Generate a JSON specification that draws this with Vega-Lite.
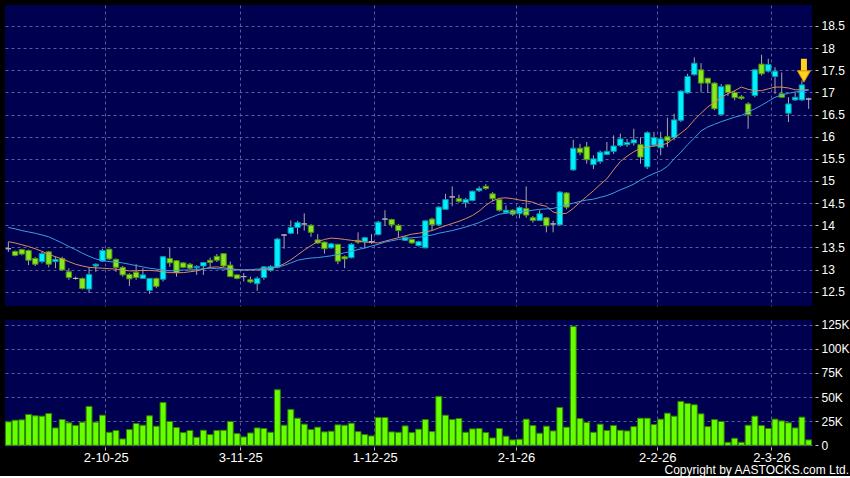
{
  "$schema": "https://vega.github.io/schema/vega-lite/v6.json",
  "background": "#000000",
  "padding": {"left": 4, "top": 5, "right": 0, "bottom": 0},
  "spacing": 12,
  "title": {"text": "Copyright by AASTOCKS.com Ltd.", "orient": "bottom", "anchor": "end", "font": "Liberation Sans", "fontSize": 12, "fontWeight": "normal", "color": "#FFFFFF", "offset": 1},
  "datasets": {
    "ohlc": [
      {"j":0,"date":"10-9-25","open":13.47,"high":13.62,"low":13.40,"close":13.47,"volume":24300,"sma10":13.63,"sma20":13.95},
      {"j":1,"date":"11-9-25","open":13.41,"high":13.43,"low":13.30,"close":13.32,"volume":26000,"sma10":13.60,"sma20":13.92},
      {"j":2,"date":"12-9-25","open":13.45,"high":13.47,"low":13.32,"close":13.35,"volume":26400,"sma10":13.56,"sma20":13.88},
      {"j":3,"date":"15-9-25","open":13.43,"high":13.45,"low":13.10,"close":13.21,"volume":31900,"sma10":13.52,"sma20":13.85},
      {"j":4,"date":"16-9-25","open":13.25,"high":13.28,"low":13.08,"close":13.12,"volume":30600,"sma10":13.47,"sma20":13.82},
      {"j":5,"date":"17-9-25","open":13.18,"high":13.40,"low":13.14,"close":13.36,"volume":30200,"sma10":13.41,"sma20":13.78},
      {"j":6,"date":"18-9-25","open":13.40,"high":13.42,"low":13.05,"close":13.12,"volume":33000,"sma10":13.34,"sma20":13.74},
      {"j":7,"date":"19-9-25","open":13.18,"high":13.29,"low":13.03,"close":13.23,"volume":18000,"sma10":13.29,"sma20":13.67},
      {"j":8,"date":"22-9-25","open":13.25,"high":13.29,"low":12.97,"close":12.99,"volume":26700,"sma10":13.24,"sma20":13.60},
      {"j":9,"date":"23-9-25","open":12.95,"high":13.03,"low":12.77,"close":12.82,"volume":23300,"sma10":13.18,"sma20":13.52},
      {"j":10,"date":"24-9-25","open":12.80,"high":12.84,"low":12.77,"close":12.80,"volume":20500,"sma10":13.12,"sma20":13.45},
      {"j":11,"date":"25-9-25","open":12.80,"high":12.82,"low":12.55,"close":12.57,"volume":24000,"sma10":13.08,"sma20":13.37},
      {"j":12,"date":"26-9-25","open":12.56,"high":13.05,"low":12.47,"close":12.89,"volume":40300,"sma10":13.05,"sma20":13.30},
      {"j":13,"date":"29-9-25","open":13.08,"high":13.14,"low":12.95,"close":13.12,"volume":24000,"sma10":13.04,"sma20":13.24},
      {"j":14,"date":"30-9-25","open":13.19,"high":13.47,"low":13.17,"close":13.43,"volume":31200,"sma10":13.03,"sma20":13.20},
      {"j":15,"date":"2-10-25","open":13.46,"high":13.47,"low":13.21,"close":13.24,"volume":13500,"sma10":13.02,"sma20":13.18},
      {"j":16,"date":"3-10-25","open":13.23,"high":13.25,"low":12.95,"close":13.05,"volume":15300,"sma10":13.01,"sma20":13.17},
      {"j":17,"date":"6-10-25","open":13.05,"high":13.08,"low":12.84,"close":12.88,"volume":6600,"sma10":12.99,"sma20":13.15},
      {"j":18,"date":"8-10-25","open":12.89,"high":12.92,"low":12.63,"close":12.79,"volume":16300,"sma10":12.97,"sma20":13.12},
      {"j":19,"date":"9-10-25","open":12.94,"high":13.12,"low":12.77,"close":12.82,"volume":22600,"sma10":12.97,"sma20":13.09},
      {"j":20,"date":"10-10-25","open":12.80,"high":13.03,"low":12.80,"close":12.88,"volume":20800,"sma10":12.98,"sma20":13.06},
      {"j":21,"date":"13-10-25","open":12.53,"high":12.80,"low":12.45,"close":12.80,"volume":30600,"sma10":12.98,"sma20":13.03},
      {"j":22,"date":"14-10-25","open":12.80,"high":12.82,"low":12.58,"close":12.62,"volume":19800,"sma10":12.97,"sma20":13.01},
      {"j":23,"date":"15-10-25","open":12.78,"high":13.30,"low":12.73,"close":13.29,"volume":44400,"sma10":12.95,"sma20":12.99},
      {"j":24,"date":"16-10-25","open":13.25,"high":13.49,"low":13.06,"close":13.15,"volume":24700,"sma10":12.93,"sma20":12.97},
      {"j":25,"date":"17-10-25","open":13.20,"high":13.21,"low":12.84,"close":12.93,"volume":18400,"sma10":12.93,"sma20":12.98},
      {"j":26,"date":"20-10-25","open":13.15,"high":13.17,"low":13.03,"close":13.05,"volume":13200,"sma10":12.93,"sma20":12.99},
      {"j":27,"date":"21-10-25","open":13.12,"high":13.15,"low":12.99,"close":13.03,"volume":15300,"sma10":12.95,"sma20":12.99},
      {"j":28,"date":"22-10-25","open":13.04,"high":13.10,"low":12.88,"close":13.07,"volume":8300,"sma10":12.97,"sma20":13.00},
      {"j":29,"date":"23-10-25","open":13.08,"high":13.17,"low":12.88,"close":13.16,"volume":15600,"sma10":13.01,"sma20":13.02},
      {"j":30,"date":"24-10-25","open":13.21,"high":13.27,"low":13.05,"close":13.16,"volume":11100,"sma10":13.05,"sma20":13.03},
      {"j":31,"date":"27-10-25","open":13.30,"high":13.35,"low":13.17,"close":13.21,"volume":15300,"sma10":13.06,"sma20":13.02},
      {"j":32,"date":"28-10-25","open":13.36,"high":13.37,"low":13.05,"close":13.08,"volume":15600,"sma10":13.04,"sma20":13.01},
      {"j":33,"date":"30-10-25","open":13.10,"high":13.18,"low":12.83,"close":12.84,"volume":24700,"sma10":13.02,"sma20":13.00},
      {"j":34,"date":"31-10-25","open":12.88,"high":12.89,"low":12.78,"close":12.80,"volume":12200,"sma10":13.00,"sma20":12.99},
      {"j":35,"date":"3-11-25","open":12.84,"high":12.92,"low":12.73,"close":12.84,"volume":8700,"sma10":12.99,"sma20":12.99},
      {"j":36,"date":"4-11-25","open":12.77,"high":12.84,"low":12.69,"close":12.72,"volume":12800,"sma10":12.99,"sma20":13.00},
      {"j":37,"date":"5-11-25","open":12.68,"high":12.84,"low":12.52,"close":12.80,"volume":18000,"sma10":12.99,"sma20":13.01},
      {"j":38,"date":"6-11-25","open":12.82,"high":13.08,"low":12.77,"close":13.06,"volume":17400,"sma10":13.00,"sma20":13.02},
      {"j":39,"date":"7-11-25","open":12.98,"high":13.10,"low":12.95,"close":13.07,"volume":13500,"sma10":13.02,"sma20":13.04},
      {"j":40,"date":"10-11-25","open":13.05,"high":13.71,"low":13.03,"close":13.69,"volume":57600,"sma10":13.06,"sma20":13.06},
      {"j":41,"date":"11-11-25","open":13.78,"high":13.80,"low":13.47,"close":13.78,"volume":20800,"sma10":13.13,"sma20":13.09},
      {"j":42,"date":"12-11-25","open":13.82,"high":14.11,"low":13.80,"close":13.95,"volume":37200,"sma10":13.22,"sma20":13.15},
      {"j":43,"date":"13-11-25","open":13.95,"high":14.10,"low":13.80,"close":14.06,"volume":28100,"sma10":13.33,"sma20":13.21},
      {"j":44,"date":"14-11-25","open":14.03,"high":14.27,"low":13.88,"close":14.03,"volume":21900,"sma10":13.44,"sma20":13.24},
      {"j":45,"date":"17-11-25","open":14.00,"high":14.03,"low":13.74,"close":13.84,"volume":16300,"sma10":13.54,"sma20":13.26},
      {"j":46,"date":"18-11-25","open":13.67,"high":13.80,"low":13.58,"close":13.60,"volume":18800,"sma10":13.63,"sma20":13.27},
      {"j":47,"date":"19-11-25","open":13.62,"high":13.63,"low":13.36,"close":13.47,"volume":13900,"sma10":13.68,"sma20":13.29},
      {"j":48,"date":"20-11-25","open":13.49,"high":13.60,"low":13.47,"close":13.58,"volume":14600,"sma10":13.71,"sma20":13.31},
      {"j":49,"date":"21-11-25","open":13.57,"high":13.58,"low":13.12,"close":13.19,"volume":21200,"sma10":13.70,"sma20":13.34},
      {"j":50,"date":"24-11-25","open":13.29,"high":13.32,"low":13.03,"close":13.24,"volume":20800,"sma10":13.68,"sma20":13.38},
      {"j":51,"date":"25-11-25","open":13.27,"high":13.60,"low":13.25,"close":13.57,"volume":22900,"sma10":13.66,"sma20":13.41},
      {"j":52,"date":"26-11-25","open":13.66,"high":13.84,"low":13.58,"close":13.62,"volume":14200,"sma10":13.64,"sma20":13.45},
      {"j":53,"date":"27-11-25","open":13.63,"high":13.74,"low":13.47,"close":13.72,"volume":11100,"sma10":13.62,"sma20":13.49},
      {"j":54,"date":"28-11-25","open":13.63,"high":13.80,"low":13.58,"close":13.63,"volume":9700,"sma10":13.61,"sma20":13.53},
      {"j":55,"date":"1-12-25","open":13.79,"high":14.10,"low":13.77,"close":14.07,"volume":28800,"sma10":13.60,"sma20":13.57},
      {"j":56,"date":"2-12-25","open":14.14,"high":14.34,"low":13.99,"close":14.14,"volume":28800,"sma10":13.64,"sma20":13.62},
      {"j":57,"date":"3-12-25","open":14.13,"high":14.15,"low":13.95,"close":14.01,"volume":13900,"sma10":13.68,"sma20":13.65},
      {"j":58,"date":"4-12-25","open":14.00,"high":14.03,"low":13.73,"close":13.88,"volume":13500,"sma10":13.72,"sma20":13.68},
      {"j":59,"date":"5-12-25","open":13.66,"high":13.76,"low":13.65,"close":13.73,"volume":20100,"sma10":13.76,"sma20":13.70},
      {"j":60,"date":"8-12-25","open":13.68,"high":13.70,"low":13.58,"close":13.60,"volume":13200,"sma10":13.80,"sma20":13.72},
      {"j":61,"date":"9-12-25","open":13.54,"high":13.65,"low":13.52,"close":13.63,"volume":16700,"sma10":13.82,"sma20":13.73},
      {"j":62,"date":"10-12-25","open":13.49,"high":14.11,"low":13.48,"close":14.10,"volume":26700,"sma10":13.85,"sma20":13.75},
      {"j":63,"date":"11-12-25","open":14.14,"high":14.17,"low":13.88,"close":14.01,"volume":14200,"sma10":13.88,"sma20":13.78},
      {"j":64,"date":"12-12-25","open":14.01,"high":14.43,"low":13.99,"close":14.41,"volume":50700,"sma10":13.94,"sma20":13.82},
      {"j":65,"date":"15-12-25","open":14.36,"high":14.71,"low":14.36,"close":14.58,"volume":31200,"sma10":13.99,"sma20":13.85},
      {"j":66,"date":"16-12-25","open":14.64,"high":14.88,"low":14.43,"close":14.64,"volume":26700,"sma10":14.04,"sma20":13.88},
      {"j":67,"date":"17-12-25","open":14.60,"high":14.69,"low":14.51,"close":14.54,"volume":27800,"sma10":14.09,"sma20":13.92},
      {"j":68,"date":"18-12-25","open":14.51,"high":14.62,"low":14.40,"close":14.58,"volume":13500,"sma10":14.15,"sma20":13.96},
      {"j":69,"date":"19-12-25","open":14.56,"high":14.78,"low":14.54,"close":14.77,"volume":17000,"sma10":14.22,"sma20":14.01},
      {"j":70,"date":"22-12-25","open":14.78,"high":14.88,"low":14.75,"close":14.83,"volume":17400,"sma10":14.32,"sma20":14.06},
      {"j":71,"date":"23-12-25","open":14.88,"high":14.93,"low":14.80,"close":14.83,"volume":13200,"sma10":14.45,"sma20":14.13},
      {"j":72,"date":"24-12-25","open":14.71,"high":14.75,"low":14.54,"close":14.60,"volume":7600,"sma10":14.55,"sma20":14.19},
      {"j":73,"date":"29-12-25","open":14.58,"high":14.60,"low":14.31,"close":14.34,"volume":17400,"sma10":14.61,"sma20":14.25},
      {"j":74,"date":"30-12-25","open":14.29,"high":14.45,"low":14.26,"close":14.34,"volume":9400,"sma10":14.62,"sma20":14.27},
      {"j":75,"date":"31-12-25","open":14.34,"high":14.36,"low":14.21,"close":14.25,"volume":5600,"sma10":14.60,"sma20":14.29},
      {"j":76,"date":"2-1-26","open":14.26,"high":14.43,"low":14.16,"close":14.40,"volume":6300,"sma10":14.57,"sma20":14.31},
      {"j":77,"date":"5-1-26","open":14.38,"high":14.88,"low":14.17,"close":14.23,"volume":27100,"sma10":14.55,"sma20":14.32},
      {"j":78,"date":"6-1-26","open":14.17,"high":14.21,"low":14.06,"close":14.11,"volume":20500,"sma10":14.52,"sma20":14.34},
      {"j":79,"date":"7-1-26","open":14.11,"high":14.34,"low":14.10,"close":14.26,"volume":12500,"sma10":14.46,"sma20":14.36},
      {"j":80,"date":"8-1-26","open":14.17,"high":14.19,"low":13.84,"close":13.99,"volume":19800,"sma10":14.43,"sma20":14.37},
      {"j":81,"date":"9-1-26","open":14.03,"high":14.10,"low":13.84,"close":14.03,"volume":14900,"sma10":14.30,"sma20":14.38},
      {"j":82,"date":"12-1-26","open":14.01,"high":14.77,"low":13.99,"close":14.75,"volume":39200,"sma10":14.26,"sma20":14.42},
      {"j":83,"date":"13-1-26","open":14.73,"high":14.75,"low":14.36,"close":14.41,"volume":18800,"sma10":14.27,"sma20":14.46},
      {"j":84,"date":"14-1-26","open":15.25,"high":15.93,"low":15.23,"close":15.74,"volume":123300,"sma10":14.38,"sma20":14.50},
      {"j":85,"date":"15-1-26","open":15.74,"high":15.84,"low":15.58,"close":15.64,"volume":27800,"sma10":14.52,"sma20":14.54},
      {"j":86,"date":"16-1-26","open":15.77,"high":15.88,"low":15.39,"close":15.48,"volume":23600,"sma10":14.65,"sma20":14.57},
      {"j":87,"date":"19-1-26","open":15.37,"high":15.58,"low":15.27,"close":15.50,"volume":13500,"sma10":14.78,"sma20":14.59},
      {"j":88,"date":"20-1-26","open":15.44,"high":15.69,"low":15.39,"close":15.65,"volume":21900,"sma10":14.92,"sma20":14.63},
      {"j":89,"date":"21-1-26","open":15.60,"high":15.88,"low":15.58,"close":15.67,"volume":15300,"sma10":15.05,"sma20":14.67},
      {"j":90,"date":"22-1-26","open":15.67,"high":16.03,"low":15.61,"close":15.79,"volume":20500,"sma10":15.25,"sma20":14.73},
      {"j":91,"date":"23-1-26","open":15.80,"high":16.07,"low":15.77,"close":15.95,"volume":15600,"sma10":15.44,"sma20":14.80},
      {"j":92,"date":"26-1-26","open":15.82,"high":15.95,"low":15.77,"close":15.87,"volume":14900,"sma10":15.56,"sma20":14.86},
      {"j":93,"date":"27-1-26","open":15.86,"high":16.18,"low":15.80,"close":15.93,"volume":19400,"sma10":15.66,"sma20":14.93},
      {"j":94,"date":"28-1-26","open":15.82,"high":15.99,"low":15.39,"close":15.54,"volume":28100,"sma10":15.74,"sma20":15.02},
      {"j":95,"date":"29-1-26","open":15.32,"high":16.12,"low":15.27,"close":16.09,"volume":28100,"sma10":15.77,"sma20":15.10},
      {"j":96,"date":"30-1-26","open":15.81,"high":16.11,"low":15.77,"close":15.98,"volume":21500,"sma10":15.79,"sma20":15.17},
      {"j":97,"date":"2-2-26","open":15.75,"high":16.11,"low":15.58,"close":15.95,"volume":27100,"sma10":15.81,"sma20":15.23},
      {"j":98,"date":"3-2-26","open":16.00,"high":16.43,"low":15.77,"close":15.91,"volume":33300,"sma10":15.85,"sma20":15.33},
      {"j":99,"date":"4-2-26","open":15.98,"high":16.52,"low":15.92,"close":16.38,"volume":30200,"sma10":15.97,"sma20":15.50},
      {"j":100,"date":"5-2-26","open":16.37,"high":17.05,"low":16.33,"close":17.03,"volume":45500,"sma10":16.08,"sma20":15.65},
      {"j":101,"date":"6-2-26","open":16.99,"high":17.42,"low":16.97,"close":17.36,"volume":43400,"sma10":16.20,"sma20":15.82},
      {"j":102,"date":"9-2-26","open":17.40,"high":17.79,"low":17.38,"close":17.66,"volume":42000,"sma10":16.38,"sma20":15.97},
      {"j":103,"date":"10-2-26","open":17.51,"high":17.66,"low":17.00,"close":17.21,"volume":32600,"sma10":16.53,"sma20":16.13},
      {"j":104,"date":"11-2-26","open":17.32,"high":17.33,"low":16.99,"close":17.21,"volume":19400,"sma10":16.67,"sma20":16.22},
      {"j":105,"date":"12-2-26","open":17.21,"high":17.23,"low":16.60,"close":16.63,"volume":26700,"sma10":16.78,"sma20":16.28},
      {"j":106,"date":"13-2-26","open":16.50,"high":17.19,"low":16.48,"close":17.13,"volume":24700,"sma10":16.89,"sma20":16.34},
      {"j":107,"date":"16-2-26","open":17.17,"high":17.19,"low":16.92,"close":17.00,"volume":3100,"sma10":16.97,"sma20":16.39},
      {"j":108,"date":"20-2-26","open":17.00,"high":17.04,"low":16.82,"close":16.88,"volume":7300,"sma10":17.04,"sma20":16.44},
      {"j":109,"date":"23-2-26","open":16.90,"high":16.94,"low":16.83,"close":16.86,"volume":3100,"sma10":17.12,"sma20":16.48},
      {"j":110,"date":"24-2-26","open":16.74,"high":16.78,"low":16.18,"close":16.50,"volume":20800,"sma10":17.07,"sma20":16.56},
      {"j":111,"date":"25-2-26","open":16.93,"high":17.53,"low":16.89,"close":17.51,"volume":30200,"sma10":17.04,"sma20":16.63},
      {"j":112,"date":"26-2-26","open":17.64,"high":17.85,"low":17.38,"close":17.42,"volume":20500,"sma10":17.04,"sma20":16.71},
      {"j":113,"date":"27-2-26","open":17.48,"high":17.76,"low":17.45,"close":17.63,"volume":17400,"sma10":17.08,"sma20":16.80},
      {"j":114,"date":"2-3-26","open":17.36,"high":17.57,"low":16.97,"close":17.48,"volume":27100,"sma10":17.12,"sma20":16.89},
      {"j":115,"date":"3-3-26","open":16.97,"high":17.45,"low":16.89,"close":16.89,"volume":25300,"sma10":17.12,"sma20":16.94},
      {"j":116,"date":"4-3-26","open":16.53,"high":16.89,"low":16.33,"close":16.74,"volume":23300,"sma10":17.10,"sma20":16.98},
      {"j":117,"date":"5-3-26","open":16.83,"high":17.00,"low":16.81,"close":16.89,"volume":18000,"sma10":17.06,"sma20":17.01},
      {"j":118,"date":"6-3-26","open":16.83,"high":17.27,"low":16.81,"close":17.17,"volume":29200,"sma10":17.06,"sma20":17.03},
      {"j":119,"date":"9-3-26","open":16.85,"high":16.88,"low":16.63,"close":16.85,"volume":5600,"sma10":17.06,"sma20":17.05}
    ]
  },
  "vconcat": [
    {
      "width": 807,
      "height": 301,
      "data": {"name": "ohlc"},
      "resolve": {"axis": {"y": "independent"}},
      "encoding": {
        "x": {"field": "j", "type": "ordinal", "title": null,
              "scale": {"paddingInner": 0, "paddingOuter": 0},
              "axis": {"values": [15, 35, 55, 76, 97, 114], "labels": false, "ticks": false, "domain": false, "grid": true, "bandPosition": 0, "title": null}}
      },
      "layer": [
        {
          "mark": {"type": "rule", "color": "#A8A8A8", "strokeWidth": 1},
          "encoding": {
            "y": {"field": "low", "type": "quantitative", "title": null,
                  "scale": {"domain": [12.177, 18.974], "zero": false, "nice": false},
                  "axis": {"orient": "right", "values": [12.5, 13, 13.5, 14, 14.5, 15, 15.5, 16, 16.5, 17, 17.5, 18, 18.5], "labelExpr": "format(datum.value, '.3~g')", "labelOverlap": false, "labelSeparation": 0, "offset": 3, "tickSize": 3, "labelPadding": 3, "title": null}},
            "y2": {"field": "high"}
          }
        },
        {
          "mark": {"type": "bar", "width": {"band": 0.8}, "strokeWidth": 1},
          "encoding": {
            "y": {"field": "open", "type": "quantitative", "title": null, "axis": null},
            "y2": {"field": "close"},
            "fill": {"condition": [{"test": "datum.close > datum.open", "value": "#00F0FF"}, {"test": "datum.close < datum.open", "value": "#86E81E"}], "value": "#B4B4B4"},
            "stroke": {"condition": [{"test": "datum.close > datum.open", "value": "#0098AA"}, {"test": "datum.close < datum.open", "value": "#4E8E10"}], "value": "#B4B4B4"}
          }
        },
        {
          "mark": {"type": "line", "color": "#DC8A5C", "strokeWidth": 1},
          "encoding": {"y": {"field": "sma10", "type": "quantitative", "title": null, "axis": null}}
        },
        {
          "mark": {"type": "line", "color": "#3C9CE0", "strokeWidth": 1},
          "encoding": {"y": {"field": "sma20", "type": "quantitative", "title": null, "axis": null}}
        },
        {
          "data": {"values": [{"j": 118}]},
          "mark": {"type": "rule", "color": "#FFD21F", "strokeWidth": 6, "xOffset": 2},
          "encoding": {"y": {"datum": 17.76, "type": "quantitative", "axis": null}, "y2": {"datum": 17.45}}
        },
        {
          "data": {"values": [{"j": 118}]},
          "mark": {"type": "point", "shape": "triangle-down", "filled": true, "size": 170, "fill": "#FFD21F", "stroke": "#D89000", "strokeWidth": 1, "opacity": 1, "xOffset": 2},
          "encoding": {"y": {"datum": 17.36, "type": "quantitative", "axis": null}}
        }
      ]
    },
    {
      "width": 807,
      "height": 127,
      "data": {"name": "ohlc"},
      "mark": {"type": "bar", "width": {"band": 0.88}, "fill": "#66FF00", "stroke": "#2F7F00", "strokeWidth": 1},
      "encoding": {
        "x": {"field": "j", "type": "ordinal", "title": null,
              "scale": {"paddingInner": 0, "paddingOuter": 0},
              "axis": {"values": [15, 35, 55, 76, 97, 114], "labelExpr": "datum.value == 15 ? '2-10-25' : datum.value == 35 ? '3-11-25' : datum.value == 55 ? '1-12-25' : datum.value == 76 ? '2-1-26' : datum.value == 97 ? '2-2-26' : datum.value == 114 ? '2-3-26' : ''", "labelAngle": 0, "labelFontSize": 13, "labelOffset": -3, "grid": true, "bandPosition": 0, "tickSize": 3, "labelPadding": 1, "domain": false, "title": null}},
        "y": {"field": "volume", "type": "quantitative", "title": null,
              "scale": {"domain": [-1760, 129870], "zero": false, "nice": false},
              "axis": {"orient": "right", "values": [0, 25000, 50000, 75000, 100000, 125000], "labelExpr": "datum.value == 0 ? '0' : format(datum.value / 1000, 'd') + 'K'", "labelOverlap": false, "offset": 3, "tickSize": 3, "labelPadding": 3, "title": null}}
      }
    }
  ],
  "config": {
    "view": {"fill": "#000050", "stroke": null},
    "axis": {"domain": false, "labelOverlap": false, "gridColor": "#5C5C9C", "gridDash": [3, 3], "gridWidth": 1, "gridOpacity": 1, "labelColor": "#FFFFFF", "labelFont": "Liberation Sans", "labelFontSize": 12, "tickColor": "#C0C0C0", "tickWidth": 1}
  }
}
